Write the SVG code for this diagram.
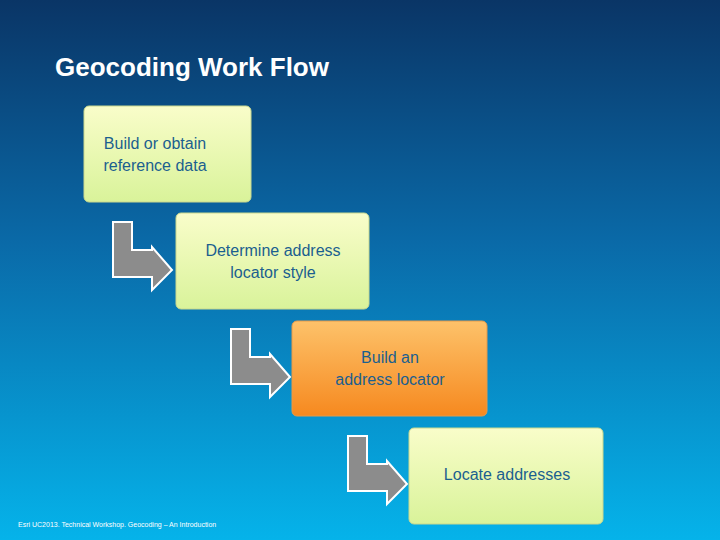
<svg xmlns="http://www.w3.org/2000/svg" width="720" height="540" viewBox="0 0 720 540">
<defs>
<linearGradient id="bg" x1="0" y1="0" x2="0" y2="1"><stop offset="0" stop-color="#0a3566"/><stop offset="0.45" stop-color="#0a6aa8"/><stop offset="1" stop-color="#05b3ea"/></linearGradient>
<linearGradient id="g" x1="0" y1="0" x2="0" y2="1"><stop offset="0" stop-color="#f9fdca"/><stop offset="1" stop-color="#d9f39a"/></linearGradient>
<linearGradient id="o" x1="0" y1="0" x2="0" y2="1"><stop offset="0" stop-color="#fdc26a"/><stop offset="1" stop-color="#f6891f"/></linearGradient>
<path id="arr" d="M113,222 H132 V250 H152 V247 L172,270 L152,290 V277 H113 Z"/>
</defs>
<style>
.box{stroke:#c9d88f;stroke-width:1}
.t{font-family:"Liberation Sans",Arial,sans-serif;font-size:16px;fill:#1b5f8f;text-anchor:middle}
.a{fill:#8c8c8c;stroke:#fff;stroke-width:2}
</style>
<rect width="720" height="540" fill="url(#bg)"/>
<text x="55" y="76" font-family="Liberation Sans,Arial,sans-serif" font-size="26" font-weight="bold" fill="#fff">Geocoding Work Flow</text>
<g id="connectors">
<use href="#arr" class="a"/>
<use href="#arr" class="a" transform="translate(118,107)"/>
<use href="#arr" class="a" transform="translate(235,214)"/>
</g>
<g id="n1"><rect class="box" x="84" y="106" width="167" height="96" rx="5" fill="url(#g)"/><text class="t" x="155" y="149">Build or obtain</text><text class="t" x="155" y="171">reference data</text></g>
<g id="n2"><rect class="box" x="176" y="213" width="193" height="96" rx="5" fill="url(#g)"/><text class="t" x="273" y="256">Determine address</text><text class="t" x="273" y="278">locator style</text></g>
<g id="n3"><rect x="292" y="321" width="195" height="95" rx="5" fill="url(#o)" stroke="#e59a4a"/><text class="t" x="390" y="363">Build an</text><text class="t" x="390" y="385">address locator</text></g>
<g id="n4"><rect class="box" x="409" y="428" width="194" height="96" rx="5" fill="url(#g)"/><text class="t" x="507" y="480">Locate addresses</text></g>
<text x="18" y="527" font-family="Liberation Sans,Arial,sans-serif" font-size="7" fill="#fff">Esri UC2013. Technical Workshop. Geocoding – An Introduction</text>
</svg>
